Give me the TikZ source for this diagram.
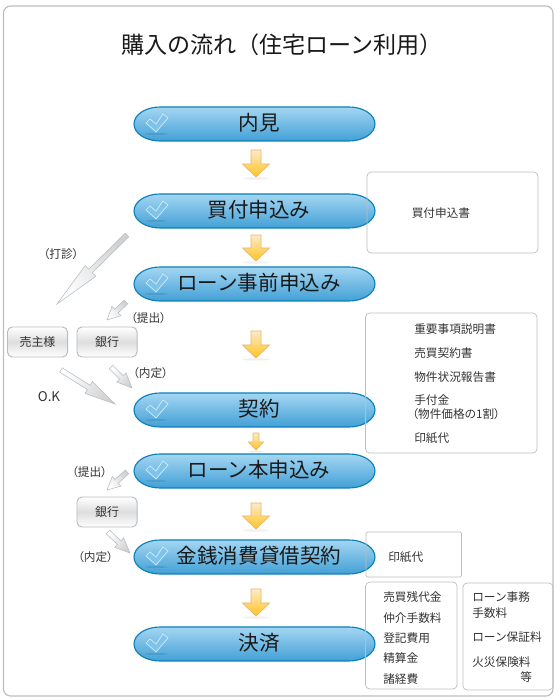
\documentclass[tikz,border=0pt]{standalone}
\usepackage{fontspec}
\setmainfont{Noto Sans CJK JP}
\newfontfamily\proportional[RawFeature=+palt]{Noto Sans CJK JP}
\usetikzlibrary{calc}

\definecolor{frameline}{HTML}{BDBDBD}
\definecolor{pillline}{HTML}{0A80B8}
\definecolor{pilltop}{HTML}{A4D6F2}
\definecolor{pillbot}{HTML}{42A0D6}
\definecolor{tickfill}{HTML}{7FC3EA}
\definecolor{tickline}{HTML}{D3ECFA}
\definecolor{goldline}{HTML}{E9B56A}
\definecolor{goldtop}{HTML}{FDEBCB}
\definecolor{goldbot}{HTML}{FFC31E}
\definecolor{silverline}{HTML}{B4BEC4}
\definecolor{textgrey}{HTML}{333333}

% block arrow between two named coordinates: style, tail, tip, shaft, head width, head length
\newcommand{\blockarrow}[6]{
  \coordinate (m) at ($(#3)!#6*0.025cm!(#2)$);
  \path[#1] ($(#2)!#4*0.0125cm!90:(#3)$) -- ($(m)!#4*0.0125cm!90:(#3)$) -- ($(m)!#5*0.0125cm!90:(#3)$) -- (#3)
    -- ($(m)!#5*0.0125cm!-90:(#3)$) -- ($(m)!#4*0.0125cm!-90:(#3)$) -- ($(#2)!#4*0.0125cm!-90:(#3)$) -- cycle;
}

\begin{document}
\begin{tikzpicture}[
    x=0.025cm, y=0.025cm,
    pill/.style={draw=pillline, line width=0.8pt, top color=pilltop, bottom color=pillbot},
    pilltext/.style={inner sep=0pt, font=\fontsize{14.6pt}{16pt}\selectfont, text=black!90},
    titletext/.style={inner sep=0pt, font=\fontsize{16.4pt}{18pt}\selectfont, text=black!90},
    goldarrow/.style={draw=goldline, line width=0.5pt, top color=goldtop, bottom color=goldbot},
    silverarrow/.style={draw=silverline, line width=0.4pt, shading=axis, top color=white, bottom color=black!18, shading angle=#1},
    greybox/.style={draw=silverline, line width=0.7pt, rounded corners=3.5pt, top color=white, bottom color=white, middle color=black!13, minimum width=1.5cm, minimum height=0.75cm, inner sep=0pt, font=\fontsize{8.5pt}{10pt}\selectfont, text=textgrey},
    sidebox/.style={draw=frameline, line width=0.5pt, rounded corners=3pt},
    memo/.style={inner sep=0pt, anchor=west, font=\fontsize{8.3pt}{10pt}\selectfont, text=textgrey},
    caption/.style={inner sep=0pt, font=\fontsize{8.3pt}{10pt}\proportional, text=textgrey},
    tick/.style={draw=tickline, fill=tickfill, line width=0.5pt}
]
\useasboundingbox (0,0) rectangle (560,700);
% frame
\draw[draw=frameline, line width=0.8pt, rounded corners=5pt] (3.5,4) rectangle (553,694);
% title
\node[titletext] (title) at (282,655) {購入の流れ（住宅ローン利用）};
% steps
\foreach \n/\y/\t in {p1/576/内見, p2/489/買付申込み, p3/416/ローン事前申込み, p4/290/契約, p5/229/ローン本申込み, p6/143/金銭消費貸借契約, p7/56/決済}{
  \draw[pill] (160,\y+17) -- (349,\y+17) arc[start angle=90, end angle=-90, x radius=26, y radius=17] -- (160,\y-17) arc[start angle=270, end angle=90, x radius=26, y radius=17] -- cycle;
  \node[pilltext] (\n) at (259,\y+1) {\t};
  \fill[pillline!60!black, opacity=0.15] (156,\y-10) ellipse (11 and 1);
  \draw[tick] (150,\y+5) -- (156,\y) -- (163,\y+10) -- (168,\y+6) -- (156,\y-8) -- (146,\y+1) -- cycle;
}
% gold arrows
\foreach \i/\a/\b/\s/\h/\l in {1/550/523/10/27/13, 2/465/439/10/27/13, 3/369/342/10/27/13, 4/267/250/6/15/8, 5/197/171/10/27/13, 6/111/84/10/27/13}{
  \coordinate (g\i a) at (256,\a);
  \coordinate (g\i b) at (256,\b);
  \fill[black!6] (256,\b-1.5) ellipse (\h*0.5 and 1.2);
  \blockarrow{goldarrow}{g\i a}{g\i b}{\s}{\h}{\l}
}
% banks and seller
\node[greybox] (seller) at (37.5,358) {売主様};
\node[greybox] (bank1) at (107,358) {銀行};
\node[greybox] (bank2) at (107,188) {銀行};
% silver arrows
\coordinate (s1a) at (127,465);
\coordinate (s1b) at (57,396);
\blockarrow{silverarrow=135}{s1a}{s1b}{5}{15}{47}
\coordinate (s2a) at (126,398);
\coordinate (s2b) at (107,380);
\blockarrow{silverarrow=135}{s2a}{s2b}{5}{13}{13}
\coordinate (s3a) at (61,330);
\coordinate (s3b) at (115,296);
\blockarrow{silverarrow=60}{s3a}{s3b}{5}{14}{31}
\coordinate (s4a) at (111,333);
\coordinate (s4b) at (132,312);
\blockarrow{silverarrow=45}{s4a}{s4b}{5}{13}{15}
\coordinate (s5a) at (127,228);
\coordinate (s5b) at (107,210);
\blockarrow{silverarrow=135}{s5a}{s5b}{5}{13}{13}
\coordinate (s6a) at (108,168);
\coordinate (s6b) at (130,147);
\blockarrow{silverarrow=45}{s6a}{s6b}{5}{13}{15}
% arrow captions
\node[caption] (l1) at (61,446) {（打診）};
\node[caption] (l2) at (148.5,382) {（提出）};
\node[caption] (l3) at (150.5,327) {（内定）};
\node[caption, font=\fontsize{9.5pt}{10pt}\proportional] (l4) at (49,303) {O.K};
\node[caption] (l5) at (89.5,228) {（提出）};
\node[caption] (l6) at (95.5,143) {（内定）};
% side boxes
\draw[sidebox] (367,528) rectangle (538,447);
\node[memo] (m1) at (411.5,487) {買付申込書};
\draw[sidebox] (365.5,387) rectangle (537,247);
\foreach \n/\y/\t in {m2/371/重要事項説明書, m3/347/売買契約書, m4/323/物件状況報告書, m5/300/手付金, m7/262/印紙代}{
  \node[memo] (\n) at (414,\y) {\t};
}
\node[caption, anchor=west] (m6) at (412,286) {（物件価格の1割）};
\draw[sidebox, rounded corners=1pt] (366,168) rectangle (461.5,123);
\node[memo] (m8) at (388,143) {印紙代};
\draw[sidebox] (365.5,118) rectangle (457,11);
\foreach \n/\y/\t in {m9/103/売買残代金, m10/82/仲介手数料, m11/62/登記費用, m12/42/精算金, m13/21/諸経費}{
  \node[memo] (\n) at (383,\y) {\t};
}
\draw[sidebox] (463,117) rectangle (553,10);
\foreach \n/\y/\t in {m14/103/ローン事務, m15/87/手数料, m16/63/ローン保証料, m17/38/火災保険料}{
  \node[memo] (\n) at (472,\y) {\t};
}
\node[memo] (m18) at (520,23) {等};
\end{tikzpicture}
\end{document}
